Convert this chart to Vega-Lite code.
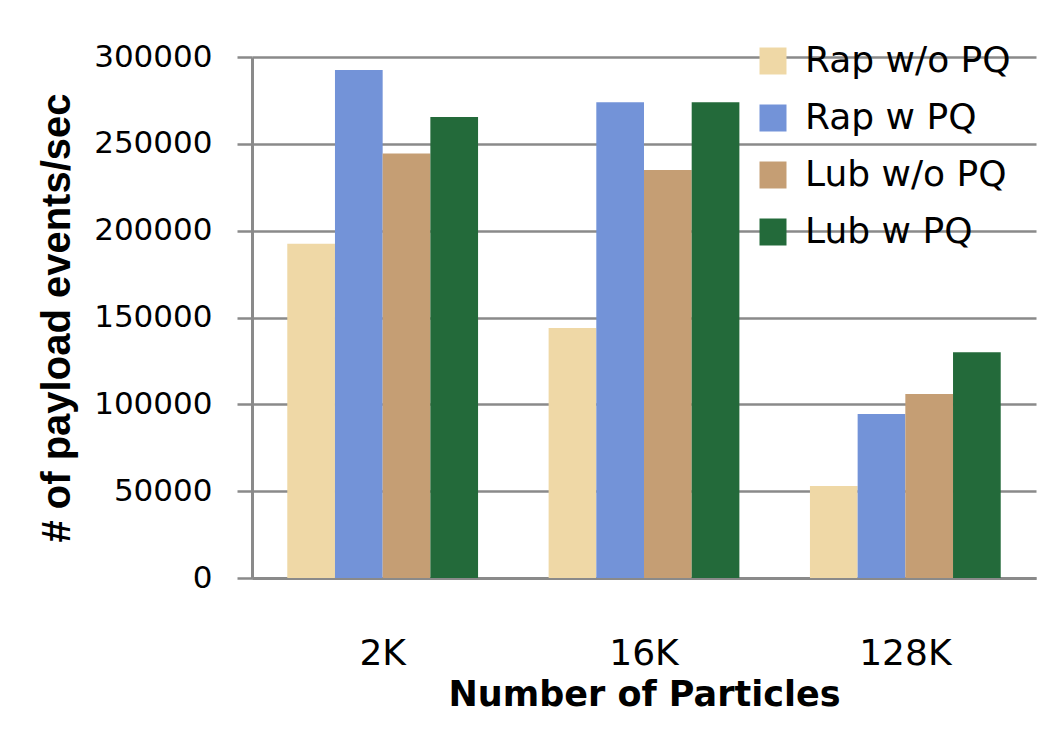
{
  "$schema": "https://vega.github.io/schema/vega-lite/v6.json",
  "width": 784,
  "height": 521,
  "autosize": {"type": "none"},
  "padding": {"left": 252, "top": 57, "right": 14, "bottom": 159},
  "background": "white",
  "data": {
    "values": [
      {"particles": "2K", "series": "Rap w/o PQ", "value": 192500},
      {"particles": "2K", "series": "Rap w PQ", "value": 292500},
      {"particles": "2K", "series": "Lub w/o PQ", "value": 244500},
      {"particles": "2K", "series": "Lub w PQ", "value": 265500},
      {"particles": "16K", "series": "Rap w/o PQ", "value": 144000},
      {"particles": "16K", "series": "Rap w PQ", "value": 274000},
      {"particles": "16K", "series": "Lub w/o PQ", "value": 235000},
      {"particles": "16K", "series": "Lub w PQ", "value": 274000},
      {"particles": "128K", "series": "Rap w/o PQ", "value": 53000},
      {"particles": "128K", "series": "Rap w PQ", "value": 94500},
      {"particles": "128K", "series": "Lub w/o PQ", "value": 106000},
      {"particles": "128K", "series": "Lub w PQ", "value": 130000}
    ]
  },
  "mark": {"type": "bar"},
  "encoding": {
    "x": {
      "field": "particles",
      "type": "nominal",
      "sort": ["2K", "16K", "128K"],
      "scale": {"paddingInner": 0.27, "paddingOuter": 0.135},
      "axis": {
        "title": "Number of Particles",
        "labelAngle": 0,
        "ticks": false,
        "labelPadding": 58,
        "labelFont": "DejaVu Sans",
        "labelFontSize": 36,
        "labelColor": "#000000",
        "titleFont": "DejaVu Sans",
        "titleFontWeight": "bold",
        "titleFontSize": 35,
        "titleColor": "#000000",
        "titlePadding": 6,
        "domainColor": "#8a8a8a",
        "domainWidth": 3,
        "grid": false
      }
    },
    "xOffset": {
      "field": "series",
      "type": "nominal",
      "sort": ["Rap w/o PQ", "Rap w PQ", "Lub w/o PQ", "Lub w PQ"],
      "scale": {"paddingInner": 0, "paddingOuter": 0}
    },
    "y": {
      "field": "value",
      "type": "quantitative",
      "scale": {"domain": [0, 300000], "nice": false},
      "axis": {
        "title": "# of payload events/sec",
        "values": [0, 50000, 100000, 150000, 200000, 250000, 300000],
        "format": "d",
        "labelFont": "DejaVu Sans",
        "labelFontSize": 31,
        "labelColor": "#000000",
        "labelPadding": 25,
        "tickSize": 15,
        "tickColor": "#8a8a8a",
        "tickWidth": 2.5,
        "domainColor": "#8a8a8a",
        "domainWidth": 3,
        "gridColor": "#8a8a8a",
        "gridWidth": 2.5,
        "titleFont": "Liberation Sans",
        "titleFontWeight": "bold",
        "titleFontSize": 40,
        "titleColor": "#000000",
        "titlePadding": 16
      }
    },
    "color": {
      "field": "series",
      "type": "nominal",
      "sort": ["Rap w/o PQ", "Rap w PQ", "Lub w/o PQ", "Lub w PQ"],
      "scale": {
        "domain": ["Rap w/o PQ", "Rap w PQ", "Lub w/o PQ", "Lub w PQ"],
        "range": ["#efd8a6", "#7393d8", "#c59e74", "#236a3a"]
      },
      "legend": {
        "title": null,
        "orient": "none",
        "legendX": 503,
        "legendY": -14,
        "padding": 0,
        "symbolType": "square",
        "symbolSize": 729,
        "symbolStrokeWidth": 0,
        "labelFont": "DejaVu Sans",
        "labelFontSize": 36,
        "labelColor": "#000000",
        "labelOffset": 14,
        "labelLimit": 400,
        "rowPadding": 21,
        "fillColor": null
      }
    }
  },
  "config": {
    "view": {"stroke": null}
  }
}
